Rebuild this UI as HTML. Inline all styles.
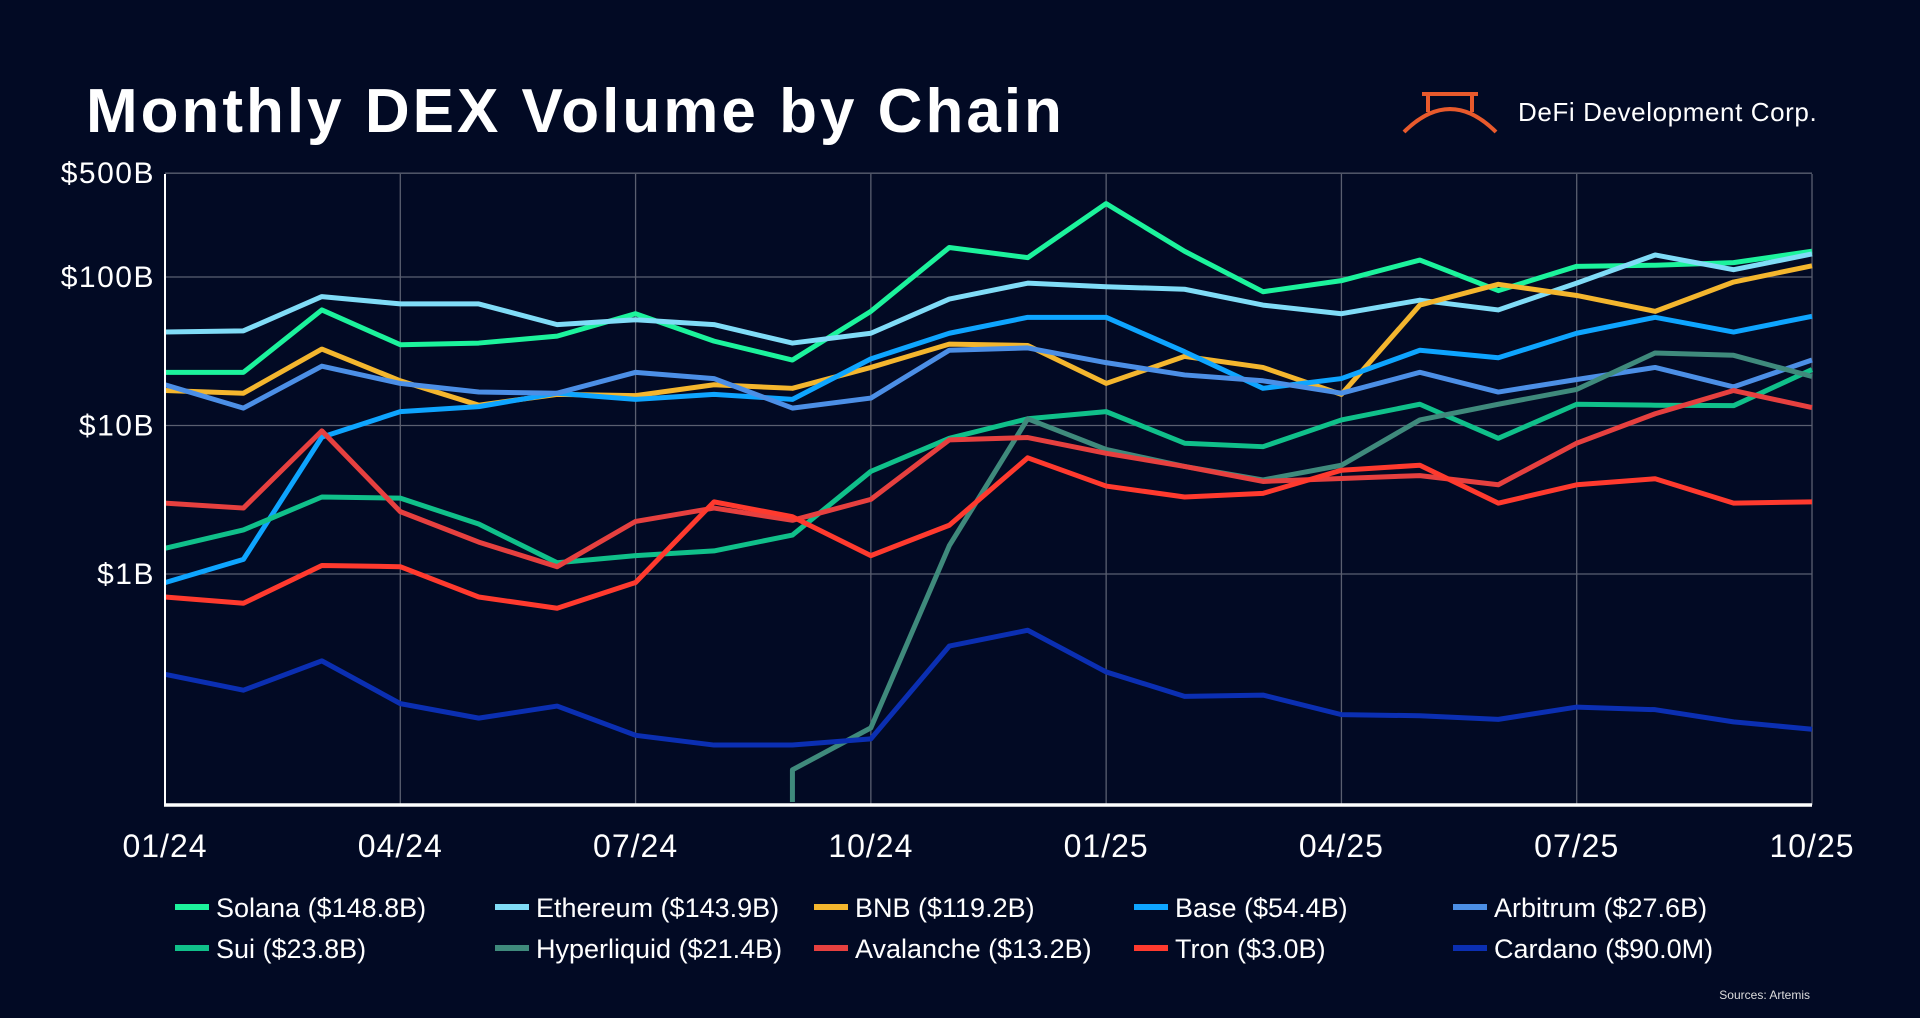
<!DOCTYPE html>
<html><head><meta charset="utf-8"><style>
html,body{margin:0;padding:0;background:#020a24;}
body{width:1920px;height:1018px;overflow:hidden;position:relative;font-family:"Liberation Sans",sans-serif;color:#fff;}
#title{position:absolute;left:86px;top:76px;font-size:62px;font-weight:bold;letter-spacing:3px;}
#logo{position:absolute;left:1400px;top:90px;display:flex;align-items:center;}
#logo span{font-size:26px;margin-left:18px;letter-spacing:0.6px;}
#src{position:absolute;right:110px;top:988px;font-size:12px;color:#ddd;}
</style></head><body>
<div id="title">Monthly DEX Volume by Chain</div>
<div id="logo">
<svg width="100" height="44" viewBox="0 0 100 44"><g fill="none" stroke="#e85a2c" stroke-width="4"><path d="M22 4 H78 M28 4 V22 M72 4 V22"/><path d="M4 42 Q50 -4 96 42"/></g></svg>
<span>DeFi Development Corp.</span></div>
<svg id="chart" width="1920" height="1018" style="position:absolute;left:0;top:0"></svg>
<div id="src">Sources: Artemis</div>
<script>
const months=["01/24","02/24","03/24","04/24","05/24","06/24","07/24","08/24","09/24","10/24","11/24","12/24","01/25","02/25","03/25","04/25","05/25","06/25","07/25","08/25","09/25","10/25"];
const xTickLabels=["01/24","04/24","07/24","10/24","01/25","04/25","07/25","10/25"];
const yTickValues=[500,100,10,1];
const yTickLabels=["$500B","$100B","$10B","$1B"];
const seriesNames=["Solana","Ethereum","BNB","Base","Arbitrum","Sui","Hyperliquid","Avalanche","Tron","Cardano"];
const legendLabels=["Solana ($148.8B)","Ethereum ($143.9B)","BNB ($119.2B)","Base ($54.4B)","Arbitrum ($27.6B)","Sui ($23.8B)","Hyperliquid ($21.4B)","Avalanche ($13.2B)","Tron ($3.0B)","Cardano ($90.0M)"];
const seriesColors=["#1cf39c","#80dcf7","#f4b62e","#0ea5ff","#4c8fe6","#10c08a","#3f8a7c","#e6403f","#ff3a2e","#0b2fb2"];
const solana=[22.8,22.8,60,35,35.9,40,56.6,37,27.6,58.7,158,135,312,149,79.6,94.5,130,81,118,120,125,149];
const ethereum=[42.6,43.4,73.8,65.9,65.9,47.8,51.5,47.8,35.9,41.8,71,90.9,86,82.7,64.7,56.6,69.8,60,91,140.7,112,143];
const bnb=[17.2,16.5,32.7,20,13.7,16.2,15.9,18.8,17.8,24.6,35.3,34.6,19.2,29.2,24.6,16.2,64.7,89.3,75.1,58.7,92.5,119];
const base=[0.875,1.255,8.35,12.4,13.4,16.5,15,16.2,15,28.1,41.8,53.5,53.5,31.4,17.8,20.7,32.1,28.6,41.8,53.5,42.6,54.4];
const arbitrum=[18.8,13.1,25.1,19.2,16.8,16.5,22.8,20.7,13.1,15.3,32.1,33.3,26.5,21.9,20,16.5,22.8,16.8,20.4,24.6,18.2,27.6];
const sui=[1.49,1.98,3.3,3.24,2.17,1.19,1.33,1.43,1.83,4.91,8.2,11.1,12.4,7.6,7.2,10.9,13.9,8.2,13.9,13.7,13.6,23.8];
const hyperliquid=[null,null,null,null,null,null,null,null,0.048,0.092,1.55,11.1,6.9,5.3,4.3,5.4,10.9,13.9,17.5,30.8,29.7,21.4];
const avalanche=[3.0,2.78,9.2,2.63,1.64,1.12,2.26,2.78,2.3,3.18,8.0,8.3,6.5,5.3,4.2,4.4,4.6,3.99,7.6,12,17.2,13.2];
const tron=[0.70,0.635,1.14,1.12,0.70,0.588,0.876,3.06,2.43,1.33,2.13,6.06,3.91,3.3,3.49,5.0,5.4,3.0,3.99,4.38,3.0,3.06];
const cardano=[0.211,0.165,0.26,0.134,0.107,0.129,0.082,0.0705,0.0705,0.0776,0.327,0.418,0.219,0.150,0.153,0.113,0.111,0.105,0.127,0.122,0.101,0.090];
const allSeries=[solana,ethereum,bnb,base,arbitrum,sui,hyperliquid,avalanche,tron,cardano];

const NS="http://www.w3.org/2000/svg";
const svg=document.getElementById('chart');
const L=165,R=1812,T=174,B=805,Y1B=574,DEC=148.5;
function xs(i){return L+i*(R-L)/(months.length-1);}
function ys(v){return Y1B-Math.log10(v)*DEC;}
function mk(tag,attrs){const e=document.createElementNS(NS,tag);for(const k in attrs)e.setAttribute(k,attrs[k]);svg.appendChild(e);return e;}

yTickValues.forEach((v,i)=>{
  const g=mk('line',{x1:L,x2:R,y1:ys(v),y2:ys(v),stroke:'#5a5f70','stroke-width':1.3});
  
  
  const t=mk('text',{x:L-10,y:ys(v)+10,'text-anchor':'end',fill:'#fff','font-size':30,'letter-spacing':1.5,'font-family':'Liberation Sans, sans-serif'});
  t.textContent=yTickLabels[i];
  
  
});
xTickLabels.forEach(lab=>{
  const i=months.indexOf(lab);const x=xs(i);
  if(i>0){const g=mk('line',{x1:x,x2:x,y1:T,y2:B,stroke:'#5a5f70','stroke-width':1.3});
  
  }
  const t=mk('text',{x:x,y:857,'text-anchor':'middle',fill:'#fff','font-size':32,'letter-spacing':1,'font-family':'Liberation Sans, sans-serif'});
  t.textContent=lab;
  
  
});
allSeries.forEach((arr,si)=>{
  let d='';let started=false;
  arr.forEach((v,i)=>{
    if(v===null||v===undefined){started=false;return;}
    const y=Math.min(ys(v),B);
    if(!started){ if(i>0) d+='M'+xs(i)+' '+(B-3)+' L'+xs(i)+' '+y+' '; else d+='M'+xs(i)+' '+y+' '; started=true;}
    else d+='L'+xs(i)+' '+y+' ';
  });
  const p=mk('path',{d:d,fill:'none',stroke:seriesColors[si],'stroke-width':5,'stroke-linejoin':'round'});
  
  
});
const ax=mk('line',{x1:L,x2:L,y1:T,y2:B,stroke:'#fff','stroke-width':2});


const bx=mk('line',{x1:L-1,x2:R,y1:B,y2:B,stroke:'#fff','stroke-width':3.5});


const legX=[175,495,814,1134,1453],legY=[907,948];
legendLabels.forEach((lab,i)=>{
  const cx=legX[i%5],cy=legY[Math.floor(i/5)];
  const l=mk('line',{x1:cx,x2:cx+34,y1:cy,y2:cy,stroke:seriesColors[i],'stroke-width':6});
  
  
  const t=mk('text',{x:cx+41,y:cy+10,fill:'#fff','font-size':27,'font-family':'Liberation Sans, sans-serif'});
  t.textContent=lab;
  
  
});
</script>
</body></html>
